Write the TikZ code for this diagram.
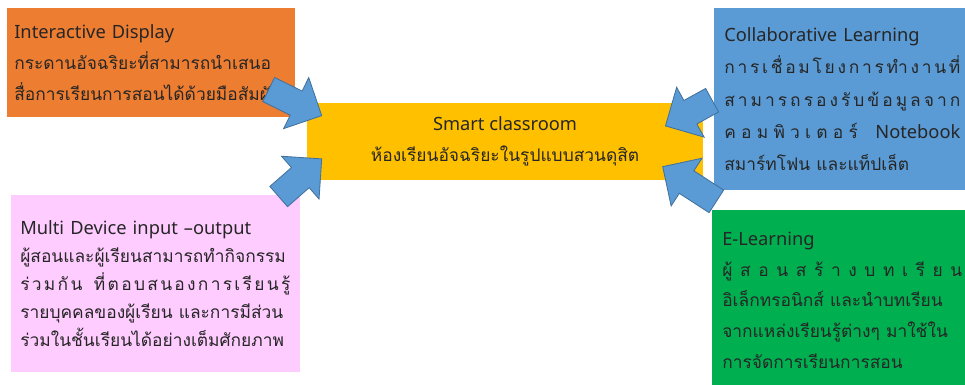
\documentclass[tikz,border=0pt]{standalone}
\usepackage{fontspec}
\setmainfont{Noto Sans}
\newfontfamily\thaifont[Script=Thai, Scale=0.95]{Loma}
\usetikzlibrary{shapes.arrows,calc,positioning}

\definecolor{dispOrange}{HTML}{ED7D31}
\definecolor{collabBlue}{HTML}{5B9BD5}
\definecolor{smartYellow}{HTML}{FFC000}
\definecolor{multiPink}{HTML}{FFCCFF}
\definecolor{elearnGreen}{HTML}{00B050}
\definecolor{arrowEdge}{HTML}{41719C}

\tikzset{
  infobox/.style={rectangle, anchor=north west, align=left, text=black!85,
    font=\fontsize{13}{22}\selectfont},
  blockarrow/.style={single arrow, draw=arrowEdge, fill=collabBlue, line width=0.6pt,
    inner xsep=0pt, inner ysep=0.325cm, single arrow head extend=0.375cm},
}
% one Thai line, never broken
\newcommand{\thline}[1]{\mbox{\thaifont #1}}
% spread one line of Thai over a fixed width
\newcommand{\spreadline}[2]{\makebox[#1][s]{\thaifont\spaceskip=0pt plus 1fil\relax #2}}
% fat arrow node from tail to tip
\newcommand{\blockarrow}[3]{%
  \path let \p1=($(#3)-(#2)$), \n1={atan2(\y1,\x1)}, \n2={veclen(\x1,\y1)} in
    node[blockarrow, rotate=\n1, minimum height=\n2] (#1) at ($(#2)!0.5!(#3)$) {};}

\begin{document}
\begin{tikzpicture}[x=0.025cm, y=-0.025cm]
    \useasboundingbox (0,0) rectangle (965,385);

    % centre
    \node [fill=smartYellow, minimum width=9.9cm, minimum height=1.925cm, align=center,
        text=black!85, font=\fontsize{13}{22}\selectfont] (smart) at (505,141.5)
        {Smart classroom\\ \thline{ห้องเรียนอัจฉริยะในรูปแบบสวนดุสิต}};

    % four boxes
    \node [infobox, fill=dispOrange, inner xsep=0.175cm, text width=6.85cm,
        minimum height=2.725cm] (display) at (7,8)
        {Interactive Display\\
         \thline{กระดานอัจฉริยะที่สามารถนำเสนอ}\\
         \thline{สื่อการเรียนการสอนได้ด้วยมือสัมผัส}};

    \node [infobox, fill=collabBlue, inner xsep=0.25cm, text width=6.1cm,
        minimum height=4.55cm, font=\fontsize{13}{23}\selectfont] (collab) at (714,8)
        {Collaborative Learning\\
         \spreadline{5.9cm}{ก า ร เ ชื่ อ ม โ ย ง ก า ร ทำ ง า น ที่}\\
         \spreadline{5.9cm}{ส า ม า ร ถ ร อ ง รั บ ข้ อ มู ล จ า ก}\\
         \spreadline{5.9cm}{ค อ ม พิ ว เ ต อ ร์ \hspace{0.4em} {\rmfamily Notebook}}\\
         \thline{สมาร์ทโฟน และแท็ปเล็ต}};

    \node [infobox, fill=multiPink, inner xsep=0.225cm, text width=6.775cm,
        minimum height=4.425cm, font=\fontsize{13}{20}\selectfont] (multi) at (11,195)
        {Multi Device input –output\\
         \thline{ผู้สอนและผู้เรียนสามารถทำกิจกรรม}\\
         \spreadline{6.75cm}{ร่ ว ม กั น \hspace{0.4em} ที่ ต อ บ ส น อ ง ก า ร เ รี ย น รู้}\\
         \thline{รายบุคคลของผู้เรียน และการมีส่วน}\\
         \thline{ร่วมในชั้นเรียนได้อย่างเต็มศักยภาพ}};

    \node [infobox, fill=elearnGreen, inner xsep=0.25cm, text width=6.1cm,
        minimum height=4.5cm] (elearn) at (712,210)
        {E-Learning\\
         \spreadline{6cm}{ผู้ ส อ น ส ร้ า ง บ ท เ รี ย น}\\
         \thline{อิเล็กทรอนิกส์ และนำบทเรียน}\\
         \thline{จากแหล่งเรียนรู้ต่างๆ มาใช้ใน}\\
         \thline{การจัดการเรียนการสอน}};

    % arrows into the centre
    \coordinate (dispTail) at ($(display.south east)+(-33,-31)$);
    \coordinate (dispTip) at ($(smart.north west)+(9,10)$);
    \coordinate (multiTail) at ($(multi.north east)+(-27,6)$);
    \coordinate (multiTip) at ($(smart.south west)+(10,-17)$);
    \coordinate (collabTail) at ($(collab.north west)+(4,89)$);
    \coordinate (collabTip) at ($(smart.north east)+(-32,20)$);
    \coordinate (elearnTail) at ($(elearn.north west)+(10,-5)$);
    \coordinate (elearnTip) at ($(smart.south east)+(-35,-10)$);

    \blockarrow{arrowDisp}{dispTail}{dispTip}
    \blockarrow{arrowMulti}{multiTail}{multiTip}
    \blockarrow{arrowCollab}{collabTail}{collabTip}
    \blockarrow{arrowElearn}{elearnTail}{elearnTip}
\end{tikzpicture}
\end{document}
